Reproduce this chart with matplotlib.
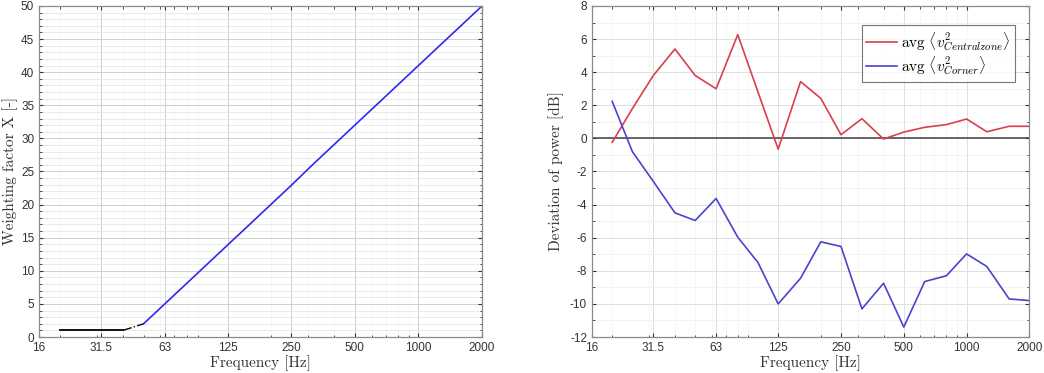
import matplotlib
matplotlib.use("Agg")
import matplotlib.pyplot as plt
from matplotlib.ticker import FixedLocator, FixedFormatter, MultipleLocator, LogLocator, NullFormatter

plt.rcParams['mathtext.fontset'] = 'cm'
plt.rcParams['font.family'] = ['Liberation Sans', 'DejaVu Sans']
plt.rcParams['axes.unicode_minus'] = False

# ---- data ----
xtick_vals = [16, 31.5, 63, 125, 250, 500, 1000, 2000]
xtick_labels = ['16', '31.5', '63', '125', '250', '500', '1000', '2000']

# left chart
const_f = [20, 40]
const_w = [1, 1]
trans_f = [40, 50]
trans_w = [1, 2]
lin_f = [50, 63, 80, 100, 125, 160, 200, 250, 315, 400, 500, 630, 800, 1000, 1250, 1600, 2000]
lin_w = [2.0, 5.0, 8.1, 11.0, 13.9, 17.1, 20.0, 22.9, 26.0, 29.1, 32.0, 35.0, 38.1, 41.0, 43.9, 47.1, 50.0]

# right chart
bands = [20, 25, 31.5, 40, 50, 63, 80, 100, 125, 160, 200, 250, 315, 400, 500, 630, 800, 1000, 1250, 1600, 2000]
central = [-0.24, 1.8, 3.8, 5.4, 3.8, 3.0, 6.27, 2.8, -0.65, 3.43, 2.42, 0.22, 1.19, -0.04, 0.38, 0.67, 0.83, 1.17, 0.4, 0.73, 0.73]
corner = [2.24, -0.8, -2.6, -4.5, -4.96, -3.63, -5.97, -7.5, -10.0, -8.45, -6.25, -6.53, -10.3, -8.75, -11.4, -8.65, -8.3, -6.98, -7.74, -9.7, -9.8]

fig = plt.figure(figsize=(10.44, 3.73), dpi=100)
ax1 = fig.add_axes([0.0374, 0.0965, 0.4243, 0.8875])
ax2 = fig.add_axes([0.567, 0.0965, 0.4190, 0.8875])

red = '#d8404c'
blue = '#4a44cc'

ax1.plot(const_f, const_w, color='black', lw=1.3)
ax1.plot(trans_f, trans_w, color='black', lw=1.0, ls='-.')
ax1.plot(lin_f, lin_w, color='#2b2bf0', lw=1.2)

ax2.axhline(0, color='#404040', lw=1.1)
ax2.plot(bands, central, color=red, lw=1.2, label=r'$\mathrm{avg}\ \langle v^2_{Centralzone}\rangle$')
ax2.plot(bands, corner, color=blue, lw=1.2, label=r'$\mathrm{avg}\ \langle v^2_{Corner}\rangle$')

lab_font = dict(fontfamily='cmr10', fontsize=11, color='#333333')

for ax, major_c, minor_c in ((ax1, '#cfcfcf', '#e6e6e6'), (ax2, '#e0e0e0', '#f0f0f0')):
    ax.set_xscale('log')
    ax.set_xlim(16, 2000)
    ax.xaxis.set_major_locator(FixedLocator(xtick_vals))
    ax.xaxis.set_major_formatter(FixedFormatter(xtick_labels))
    ax.xaxis.set_minor_locator(LogLocator(base=10, subs=range(2, 10)))
    ax.xaxis.set_minor_formatter(NullFormatter())
    ax.yaxis.set_minor_locator(MultipleLocator(1))
    ax.grid(True, which='major', color=major_c, lw=0.7)
    ax.grid(True, which='minor', axis='y', color=minor_c, lw=0.6)
    ax.grid(True, which='minor', axis='x', color='#f3f3f3', lw=0.5)
    ax.set_axisbelow(True)
    ax.tick_params(which='both', direction='in', top=True, right=True, labelsize=8.5,
                   colors='#333333', length=3)
    ax.tick_params(which='minor', length=1.8)
    for s in ax.spines.values():
        s.set_color('#8a8a8a')
        s.set_linewidth(0.9)
    ax.set_xlabel('Frequency [Hz]', labelpad=1, **lab_font)

ax1.set_ylim(0, 50)
ax1.yaxis.set_major_locator(MultipleLocator(5))
ax1.set_ylabel('Weighting factor X [-]', labelpad=2, **lab_font)

ax2.set_ylim(-12, 8)
ax2.yaxis.set_major_locator(MultipleLocator(2))
ax2.set_ylabel('Deviation of power [dB]', labelpad=4, **lab_font)

leg = ax2.legend(loc='upper right', fontsize=11, frameon=True, fancybox=False,
                 handlelength=2.0, borderpad=0.3, labelspacing=0.1, handletextpad=0.3,
                 bbox_to_anchor=(0.985, 0.965))
leg.get_frame().set_edgecolor('#555555')
leg.get_frame().set_linewidth(0.8)

fig.savefig('out.png', dpi=100)
